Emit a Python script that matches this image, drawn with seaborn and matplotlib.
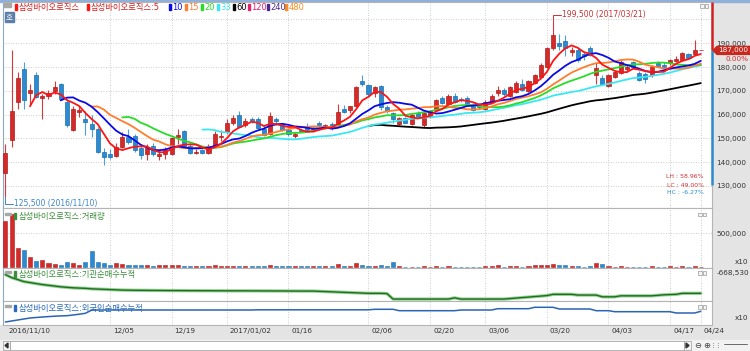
import numpy as np
import pandas as pd
import matplotlib
matplotlib.use('Agg')
import matplotlib.pyplot as plt
import matplotlib.transforms as mtrans
from matplotlib.patches import Rectangle, Polygon
import seaborn as sns

sns.set_theme(style='white')
plt.rcParams['font.family'] = ['DejaVu Sans', 'Noto Sans CJK KR']
plt.rcParams['axes.unicode_minus'] = False

# 삼성바이오로직스 일봉 2016/11/10 ~ 2017/04/24 (원)
open_ = [135500, 149500, 165500, 179000, 169000, 176500, 167000, 168000, 170000, 173000,
         165500, 153500, 161000, 158000, 156000, 154000, 144500, 143500, 142500, 146500,
         150500, 151000, 146000, 143500, 147000, 142500, 143500, 143500, 150500, 153000,
         147000, 144000, 145000, 144000, 147000, 150500, 152500, 156500, 160000, 155500,
         158000, 158000, 154000, 152000, 158000, 155500, 153500, 151000, 153500, 155000,
         153000, 156500, 154500, 156000, 156000, 162500, 162000, 163500, 174000, 172500,
         169000, 172000, 163000, 160500, 156000, 158500, 156000, 160500, 155500, 159500,
         162000, 167000, 164500, 168000, 166500, 167000, 164000, 164000, 162500, 165500,
         169000, 170500, 168000, 169500, 173000, 170000, 173500, 176000, 180000, 188000,
         190000, 191000, 186500, 187000, 185500, 188000, 176500, 175500, 172000, 176000,
         177500, 179000, 182000, 177500, 177000, 176500, 181500, 181000, 181500, 182500,
         183000, 185500, 185500, 187000]
high = [147500, 187000, 178000, 182000, 173000, 178000, 168500, 170500, 174000, 173500,
        166500, 163500, 163500, 161500, 160000, 155000, 146000, 145500, 148000, 152500,
        154000, 152000, 147500, 147500, 148000, 145000, 146500, 150500, 154000, 153500,
        148000, 145500, 145500, 147500, 153000, 153500, 158000, 160000, 161500, 158500,
        159000, 159000, 155500, 161000, 159000, 156500, 154500, 152500, 154500, 156500,
        155000, 157500, 156000, 157000, 164500, 164000, 163500, 172000, 176500, 173000,
        172000, 172500, 164000, 161000, 159000, 159000, 160500, 161500, 161000, 162000,
        166500, 168000, 168500, 169000, 167500, 168000, 165000, 165000, 166000, 168500,
        172000, 171000, 172000, 174000, 175000, 174500, 177000, 181500, 188500, 199500,
        194000, 193500, 188500, 188000, 186500, 189000, 181500, 176500, 177000, 178500,
        183000, 181000, 182500, 178500, 178000, 181000, 182500, 182000, 183500, 184500,
        186500, 186000, 191500, 187000]
low = [125500, 146500, 162500, 162500, 164000, 167000, 158000, 166500, 168500, 166000,
       155000, 153000, 159000, 151500, 150500, 144000, 139000, 141500, 142000, 146000,
       147500, 144500, 141500, 141000, 142500, 141000, 141500, 143000, 147500, 146500,
       143500, 143500, 143500, 143500, 146500, 149000, 152000, 155500, 154500, 155000,
       156500, 154000, 151000, 151500, 155500, 153000, 151000, 150000, 152500, 153000,
       152500, 155000, 154000, 153500, 155500, 160500, 160500, 163000, 172000, 168000,
       167500, 162000, 160500, 156500, 155500, 156500, 155500, 158500, 155000, 158500,
       161500, 164500, 164000, 165000, 165500, 164000, 161500, 162500, 162000, 165000,
       168000, 168000, 167500, 169000, 170000, 169500, 173000, 175500, 179500, 187000,
       187000, 184500, 184500, 182000, 183000, 184500, 173000, 172500, 171500, 175500,
       177000, 178000, 179500, 174000, 173500, 176000, 180000, 179500, 181000, 182000,
       182500, 183500, 185000, 187000]
close = [144000, 161500, 175500, 166000, 170500, 167500, 168000, 169000, 171500, 166500,
         155500, 162500, 162000, 157000, 154000, 144500, 142000, 142000, 146500, 150500,
         148500, 145000, 143000, 146000, 143500, 143500, 145000, 150000, 151500, 147000,
         144000, 144500, 144000, 147000, 152000, 151000, 156500, 158500, 155000, 157500,
         157500, 154500, 151500, 159500, 157500, 153500, 152000, 152000, 153000, 153500,
         154000, 155500, 155500, 154500, 161000, 161000, 163500, 171500, 173000, 168500,
         171500, 163000, 161500, 158000, 158500, 156500, 160000, 159000, 160500, 161500,
         166000, 165000, 168000, 165500, 166000, 164500, 162000, 163000, 165500, 168000,
         170500, 168500, 171500, 173500, 170500, 174000, 176500, 181000, 188000, 193500,
         189000, 188000, 187000, 183000, 184500, 185000, 179500, 173000, 176500, 178000,
         182000, 180000, 180000, 174500, 175000, 180000, 180500, 180000, 183000, 183500,
         186000, 184000, 187000, 187000]
# 거래량 (x10)
volume = [685000, 785000, 285000, 249000, 159000, 95000, 110000, 60000, 50000, 35000,
          84000, 69000, 35000, 84000, 234000, 84000, 69000, 35000, 60000, 50000,
          35000, 35000, 30000, 30000, 20000, 30000, 30000, 35000, 35000, 15000,
          15000, 15000, 15000, 20000, 30000, 15000, 25000, 25000, 20000, 15000,
          15000, 15000, 15000, 30000, 15000, 15000, 15000, 15000, 15000, 15000,
          15000, 15000, 15000, 15000, 45000, 25000, 15000, 66000, 35000, 20000,
          20000, 40000, 25000, 75000, 15000, 10000, 10000, 10000, 25000, 10000,
          25000, 10000, 15000, 10000, 10000, 10000, 10000, 10000, 15000, 20000,
          35000, 10000, 15000, 15000, 10000, 15000, 30000, 35000, 40000, 55000,
          30000, 30000, 20000, 25000, 10000, 15000, 65000, 45000, 20000, 10000,
          25000, 10000, 10000, 10000, 10000, 15000, 10000, 10000, 15000, 10000,
          25000, 10000, 25000, 5000]
# 기관 순매수 누적
inst_cum = [-700000, -760000, -800000, -840000, -860000, -880000, -900000, -915000, -930000, -945000,
            -955000, -965000, -970000, -975000, -985000, -990000, -995000, -1000000, -1005000, -1010000,
            -1012000, -1014000, -1015000, -1016000, -1017000, -1018000, -1019000, -1020000, -1020000, -1021000,
            -1022000, -1022000, -1023000, -1023000, -1024000, -1024000, -1025000, -1025000, -1025000, -1025000,
            -1026000, -1026000, -1027000, -1027000, -1028000, -1028000, -1029000, -1029000, -1030000, -1030000,
            -1030000, -1035000, -1040000, -1045000, -1050000, -1055000, -1060000, -1065000, -1070000, -1075000,
            -1075000, -1075000, -1080000, -1190000, -1190000, -1190000, -1190000, -1190000, -1190000, -1190000,
            -1190000, -1190000, -1190000, -1165000, -1190000, -1190000, -1190000, -1190000, -1190000, -1190000,
            -1190000, -1190000, -1180000, -1170000, -1160000, -1150000, -1140000, -1130000, -1120000, -1095000,
            -1095000, -1095000, -1095000, -1110000, -1110000, -1110000, -1110000, -1145000, -1145000, -1145000,
            -1125000, -1125000, -1125000, -1125000, -1125000, -1125000, -1115000, -1105000, -1100000, -1095000,
            -1075000, -1075000, -1075000, -1075000]
# 외국인 순매수 누적 (x10)
frgn_cum = [10000, 20000, 30000, 40000, 50000, 55000, 60000, 64000, 68000, 71000,
            73000, 80000, 88000, 97000, 128000, 130000, 130000, 130000, 130000, 130000,
            130000, 130000, 130000, 130000, 130000, 130000, 130000, 130000, 130000, 130000,
            130000, 130000, 130000, 130000, 130000, 130000, 130000, 130000, 130000, 130000,
            130000, 132000, 132000, 132000, 132000, 132000, 132000, 132000, 132000, 132000,
            132000, 132000, 132000, 132000, 132000, 132000, 132000, 132000, 132000, 132000,
            137000, 137000, 137000, 137000, 123000, 123000, 123000, 123000, 123000, 123000,
            123000, 123000, 123000, 123000, 130000, 130000, 130000, 130000, 130000, 130000,
            143000, 143000, 143000, 143000, 143000, 143000, 157000, 157000, 157000, 157000,
            140000, 140000, 140000, 140000, 140000, 140000, 123000, 123000, 123000, 113000,
            113000, 113000, 113000, 113000, 113000, 113000, 113000, 113000, 113000, 100000,
            100000, 100000, 100000, 117000]
range_low = 130500

tick_pos = [0, 17, 27, 36, 46, 59, 69, 78, 88, 98, 108, 113]
tick_text = ['2016/11/10', '12/05', '12/19', '2017/01/02', '01/16', '02/06',
             '02/20', '03/06', '03/20', '04/03', '04/17', '04/24']
hi_date, lo_date = '2017/03/21', '2016/11/10'

ma_windows = [5, 10, 15, 20, 33, 60, 120, 240, 480]
ma_colors = ['#ff1414', '#0a0ae6', '#ff7d2d', '#28dc28', '#3ae8f2', '#000000',
             '#e6206e', '#4b2a8c', '#ff8c1e']
name = '삼성바이오로직스'

df = pd.DataFrame({'i': np.arange(len(close)), 'open': open_, 'high': high, 'low': low,
                   'close': close, 'vol': volume, 'inst': inst_cum, 'frgn': frgn_cum})
up = (df['close'] >= df['open']).values
RED, BLUE = '#d42a2a', '#2b8bd0'
face = np.where(up, RED, BLUE)
edge = np.where(up, '#b01c1c', '#1f6fae')
wick = np.where(up, '#d43a3a', '#4aa0dc')

W, H = 750, 351
fig = plt.figure(figsize=(W / 100, H / 100), dpi=100)
fig.patch.set_facecolor('white')
XL = (-0.39, 114.82)


def frect(x0, y0, x1, y1, **kw):
    fig.patches.append(Rectangle((x0 / W, 1 - y1 / H), (x1 - x0) / W, (y1 - y0) / H,
                                 transform=fig.transFigure, **kw))


def ftext(x, y, s, **kw):
    kw.setdefault('va', 'center')
    fig.text(x / W, 1 - y / H, s, **kw)


def px_ax(x0, y0, x1, y1):
    a = fig.add_axes([x0 / W, 1 - y1 / H, (x1 - x0) / W, (y1 - y0) / H])
    a.set_facecolor('white')
    for s in a.spines.values():
        s.set_color('#b4b4b4')
        s.set_linewidth(0.8)
    a.spines['left'].set_color('#8fa8c8')
    a.set_xticks(tick_pos)
    a.yaxis.tick_right()
    a.tick_params(axis='both', length=0, labelbottom=False)
    a.tick_params(axis='y', labelsize=5.2, labelcolor='#333333', pad=3)
    a.grid(True, axis='x', color='#bdbdbd', ls=(0, (1, 2)), lw=0.6)
    a.get_xgridlines()[0].set_visible(False)
    a.set_axisbelow(True)
    return a


# chrome backgrounds (below the axes)
frect(712, 2, 750, 325, color='#e4e4e4', zorder=-1)
frect(0, 325, 750, 340, color='#e4e4e4', zorder=-1)
frect(0, 340, 750, 351, color='#f2f2f2', zorder=-1)
frect(0, 0, 750, 1.5, color='#8fb0d8', zorder=-1)

# ---- price panel
ax = px_ax(3, 2, 712, 208)
ax.set_ylim(120750, 207350)
yt = list(range(130000, 200001, 10000))
ax.set_yticks(yt)
ax.set_yticklabels([f'{v:,}' if v < 200000 else '' for v in yt])
ax.grid(True, axis='y', color='#bdbdbd', ls=(0, (1, 2)), lw=0.6)

ax.vlines(df['i'], df['low'], df['high'], colors=wick, lw=0.8, zorder=2)
body_lo = np.minimum(df['open'], df['close'])
body_h = np.maximum((df['close'] - df['open']).abs(), 350)
ax.bar(df['i'], body_h, bottom=body_lo, width=0.66, color=face, edgecolor=edge,
       linewidth=0.5, zorder=3)

for w, c in list(zip(ma_windows, ma_colors))[::-1]:
    ma = df['close'].rolling(w).mean()
    if ma.notna().sum() < 2:
        continue
    sns.lineplot(x=df['i'], y=ma, ax=ax, color=c, lw=1.3, zorder=4)
ax.set_xlabel('')
ax.set_ylabel('')

# high / low markers
hi_i = int(df['high'].idxmax())
lo_i = int(df['low'].idxmin())
hi_v, lo_v = df['high'][hi_i], df['low'][lo_i]
ax.plot([hi_i, hi_i, hi_i + 1.3], [hi_v, hi_v + 2200, hi_v + 2200], color='#c83232', lw=0.7, zorder=5)
ax.text(hi_i + 1.4, hi_v + 2600, f'{hi_v:,} ({hi_date})', color='#c83232', fontsize=5.5,
        va='center', ha='left', zorder=5)
ax.plot([lo_i, lo_i, lo_i + 1.2], [lo_v, lo_v - 2900, lo_v - 2900], color='#3a86c8', lw=0.7, zorder=5)
ax.text(lo_i + 1.4, lo_v - 2700, f'{lo_v:,} ({lo_date})', color='#3a86c8', fontsize=5.5,
        va='center', ha='left', zorder=5)

# LH / LC / HC
last = df['close'].iloc[-1]
lh = (hi_v / lo_v - 1) * 100
lc = (last / lo_v - 1) * 100
hc = (last / hi_v - 1) * 100
ftext(704, 177, f'LH : {lh:.2f}%', color='#d03030', fontsize=4.4, ha='right')
ftext(704, 185, f'LC : {lc:.2f}%', color='#d03030', fontsize=4.4, ha='right')
ftext(704, 193, f'HC : {hc:.2f}%', color='#2a8ad0', fontsize=4.4, ha='right')

# range bar on the right edge
ax.vlines(XL[1] - 0.05, last, 207350, colors='#d42020', lw=1.8, clip_on=False, zorder=6)
ax.vlines(XL[1] - 0.05, range_low, last, colors='#2b8bd0', lw=1.8, clip_on=False, zorder=6)

# legend header
frect(4, 3, 11, 7, color='#a8a8a8', zorder=5)
frect(5, 12, 14, 22, color='#5b7fa8', zorder=5)
ftext(9.5, 17, '호', color='white', fontsize=5.5, ha='center', zorder=6)
leg = [(15, name, ma_colors[0])] + [(87, f'{name}:{ma_windows[0]}', ma_colors[0])]
lx = [169, 185, 201, 217, 233, 248, 267, 285]
for x, w, c in zip(lx, ma_windows[1:], ma_colors[1:]):
    leg.append((x, str(w), c))
for x, s, c in leg:
    frect(x, 4, x + 2, 10, color=c, zorder=5)
    tc = '#d42020' if s.startswith(name) else c
    ftext(x + 3.5, 7.5, s, color=tc, fontsize=6, ha='left', zorder=6)
for bx in (700, 704.5):
    frect(bx, 4, bx + 3.5, 7.5, facecolor='#f4f4f4', edgecolor='#9a9a9a', lw=0.5, zorder=6)

# ---- volume panel
axv = px_ax(3, 208, 712, 268)
axv.bar(df['i'], df['vol'], width=0.66, color=face, edgecolor=edge, linewidth=0.4, zorder=3)
axv.set_ylim(-10500, 875400)
axv.set_yticks([500000])
axv.set_yticklabels(['500,000'])
axv.grid(True, axis='y', color='#bdbdbd', ls=(0, (1, 2)), lw=0.6)
ftext(748, 262, 'x10', color='#333333', fontsize=5.2, ha='right')

# ---- institution cumulative
axi = px_ax(3, 268, 712, 301)
sns.lineplot(x=df['i'], y=df['inst'], ax=axi, color='#96d296', lw=2.4, zorder=3)
sns.lineplot(x=df['i'], y=df['inst'], ax=axi, color='#1e6e1e', lw=1.0, zorder=4)
axi.set_ylim(-1228530, -568530)
axi.set_yticks([-668530])
axi.set_yticklabels(['-668,530'])
axi.set_xlabel('')
axi.set_ylabel('')

# ---- foreigner cumulative
axf = px_ax(3, 301, 712, 325)
sns.lineplot(x=df['i'], y=df['frgn'], ax=axf, color='#2a64b4', lw=1.1, zorder=3)
axf.set_ylim(-20000, 220000)
axf.set_yticks([])
axf.set_xlabel('')
axf.set_ylabel('')
axf.tick_params(axis='x', labelbottom=True, labelsize=5.2, labelcolor='#333333', pad=2.5)
axf.set_xticklabels(tick_text, ha='left')
shift = mtrans.ScaledTranslation(3 / 100, 0, fig.dpi_scale_trans)
for lbl in axf.get_xticklabels():
    lbl.set_transform(lbl.get_transform() + shift)
ftext(748, 318, 'x10', color='#333333', fontsize=5.2, ha='right')

for a in (ax, axv, axi, axf):
    a.set_xlim(*XL)

# panel titles
titles = [(216, f'{name}:거래량', '#3c8c3c'), (274, f'{name}:기관순매수누적', '#3c8c3c'),
          (308, f'{name}:외국인순매수누적', '#2a6ab8')]
for y, s, c in titles:
    frect(5, y - 3, 11, y - 1, color='#a8a8a8', zorder=5)
    frect(14, y - 3, 16, y + 3, color=c, zorder=5)
    ftext(19, y, s, color=c, fontsize=6, ha='left', zorder=6)
for y in (213, 271, 305):
    for bx in (698, 702.5):
        frect(bx, y, bx + 3.5, y + 3.5, facecolor='#f4f4f4', edgecolor='#9a9a9a', lw=0.5, zorder=6)

# current price tag
ypx = H - ax.transData.transform((0, last))[1]
tag = Polygon([(713 / W, 1 - ypx / H), (717 / W, 1 - (ypx - 4) / H), (750 / W, 1 - (ypx - 4) / H),
               (750 / W, 1 - (ypx + 4) / H), (717 / W, 1 - (ypx + 4) / H)],
              closed=True, transform=fig.transFigure, color='#c8281e', zorder=8)
fig.patches.append(tag)
fig.text(733.5 / W, 1 - ypx / H, f'{last:,}', color='white', fontsize=5.2, ha='center',
         va='center', zorder=9)
chg = (last / df['close'].iloc[-2] - 1) * 100
ftext(748, ypx + 9, f'{chg:.2f}%', color='#d03030', fontsize=5.2, ha='right', zorder=9)

# scroll bar
frect(3, 341, 10, 350, facecolor='#f4f4f4', edgecolor='#9a9a9a', lw=0.5, zorder=2)
frect(10, 341, 684, 350, facecolor='white', edgecolor='#9a9a9a', lw=0.5, zorder=2)
frect(684, 341, 691, 350, facecolor='#f4f4f4', edgecolor='#9a9a9a', lw=0.5, zorder=2)
for pts in ([(5, 345.5), (8, 343), (8, 348)], [(689, 345.5), (686, 343), (686, 348)]):
    fig.patches.append(Polygon([(px / W, 1 - py / H) for px, py in pts], closed=True,
                               transform=fig.transFigure, color='#333333', zorder=3))
ftext(698, 345.5, '⊖', color='#444444', fontsize=6, ha='center')
ftext(707, 345.5, '⊕', color='#444444', fontsize=6, ha='center')
ftext(716, 345, '⋮⋮', color='#444444', fontsize=4, ha='center')
fig.lines.append(plt.Line2D([724 / W, 747 / W], [1 - 344 / H, 1 - 344 / H], color='#555555',
                            lw=0.6, transform=fig.transFigure))

fig.savefig('out.png', dpi=100, facecolor='white')
